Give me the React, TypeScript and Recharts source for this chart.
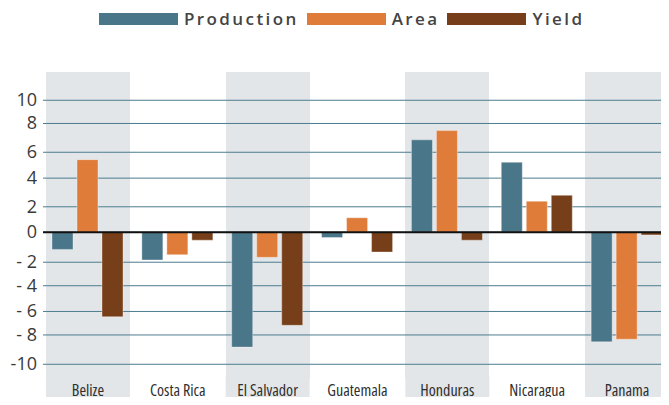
import { BarChart, Bar, XAxis, YAxis, CartesianGrid, ReferenceLine } from "recharts";

const countries = ["Belize", "Costa Rica", "El Salvador", "Guatemala", "Honduras", "Nicaragua", "Panama"];
const production = [-1.3, -2.1, -8.7, -0.4, 7.0, 5.3, -8.3];
const area = [5.5, -1.7, -1.9, 1.1, 7.7, 2.35, -8.1];
const yieldChange = [-6.4, -0.6, -7.05, -1.5, -0.6, 2.8, -0.2];

// gridlines in the source sit a little unevenly, so keep their positions with the labels
const yTickValues = [10, 8.24, 6.06, 4.1, 1.93, 0, -2.27, -4.05, -6.0, -7.78, -10];
const yTickLabels = ["10", "8", "6", "4", "2", "0", "- 2", "- 4", "- 6", "- 8", "-10"];

const series = [
  { key: "production", name: "Production", color: "#4a7689" },
  { key: "area", name: "Area", color: "#e07c3a" },
  { key: "yield", name: "Yield", color: "#773f19" },
];

const data = countries.map((c, i) => ({
  country: c,
  production: production[i],
  area: area[i],
  yield: yieldChange[i],
}));

const BAND = "#e2e6e9";
const INSET = 3;

// edges of the shaded band behind every other country
function bandEdges({ offset }: any) {
  const w = offset.width / countries.length;
  const pts: number[] = [];
  countries.forEach((_, i) => {
    if (i % 2 === 0) {
      pts.push(offset.left + i * w + INSET, offset.left + (i + 1) * w - INSET);
    }
  });
  return pts;
}

function CountryTick(props: any) {
  const { x, y, payload, index } = props;
  return (
    <g>
      {index % 2 === 0 && <rect x={x - 42} y={y - 1} width={84} height={32} fill={BAND} />}
      <text
        x={x}
        y={y + 18}
        textAnchor="middle"
        fill="#2e2e2e"
        style={{ fontFamily: "'Open Sans', sans-serif", fontSize: 16, fontStretch: "80%" }}
      >
        {payload.value}
      </text>
    </g>
  );
}

function YTick(props: any) {
  const { x, y, payload } = props;
  const label = yTickLabels[yTickValues.indexOf(payload.value)] ?? String(payload.value);
  return (
    <text
      x={x}
      y={y}
      dy={6}
      textAnchor="end"
      fill="#3a3a3a"
      style={{ fontFamily: "'Open Sans', sans-serif", fontSize: 18, whiteSpace: "pre" }}
    >
      {label}
    </text>
  );
}

export default function App() {
  return (
    <div style={{ position: "relative", margin: -8, width: 669, height: 405, overflow: "hidden", background: "#fff" }}>
      <div
        style={{
          position: "absolute",
          top: 7,
          left: 99,
          display: "flex",
          alignItems: "center",
          fontFamily: "'Open Sans', sans-serif",
          fontWeight: 600,
          fontSize: 17,
          letterSpacing: 2.4,
          color: "#444",
        }}
      >
        {series.map((s) => (
          <div key={s.key} style={{ display: "flex", alignItems: "center", marginRight: 8 }}>
            <span style={{ display: "inline-block", width: 79, height: 12, background: s.color, marginRight: 6 }} />
            <span>{s.name}</span>
          </div>
        ))}
      </div>
      <BarChart
        width={672}
        height={405}
        data={data}
        margin={{ top: 72, right: 0, bottom: 0, left: 0 }}
        barSize={21}
        barGap={4}
      >
        <CartesianGrid
          horizontal={false}
          vertical={{ stroke: "none" }}
          verticalCoordinatesGenerator={bandEdges}
          verticalFill={["none", BAND]}
          stroke="none"
        />
        <CartesianGrid vertical={false} syncWithTicks stroke="#4d7c8f" strokeWidth={1} />
        <XAxis
          dataKey="country"
          height={27}
          axisLine={false}
          tickLine={false}
          tickSize={0}
          tickMargin={0}
          interval={0}
          tick={<CountryTick />}
        />
        <YAxis
          width={43}
          domain={[-11.04, 12.14]}
          ticks={yTickValues}
          interval={0}
          allowDataOverflow
          axisLine={false}
          tickLine={false}
          tickSize={4}
          tickMargin={2}
          tick={<YTick />}
        />
        {series.map((s) => (
          <Bar
            key={s.key}
            dataKey={s.key}
            name={s.name}
            fill={s.color}
            stroke="rgba(255,255,255,0.35)"
            strokeWidth={1}
            isAnimationActive={false}
          />
        ))}
        <ReferenceLine y={0} stroke="#111" strokeWidth={2} />
      </BarChart>
    </div>
  );
}
